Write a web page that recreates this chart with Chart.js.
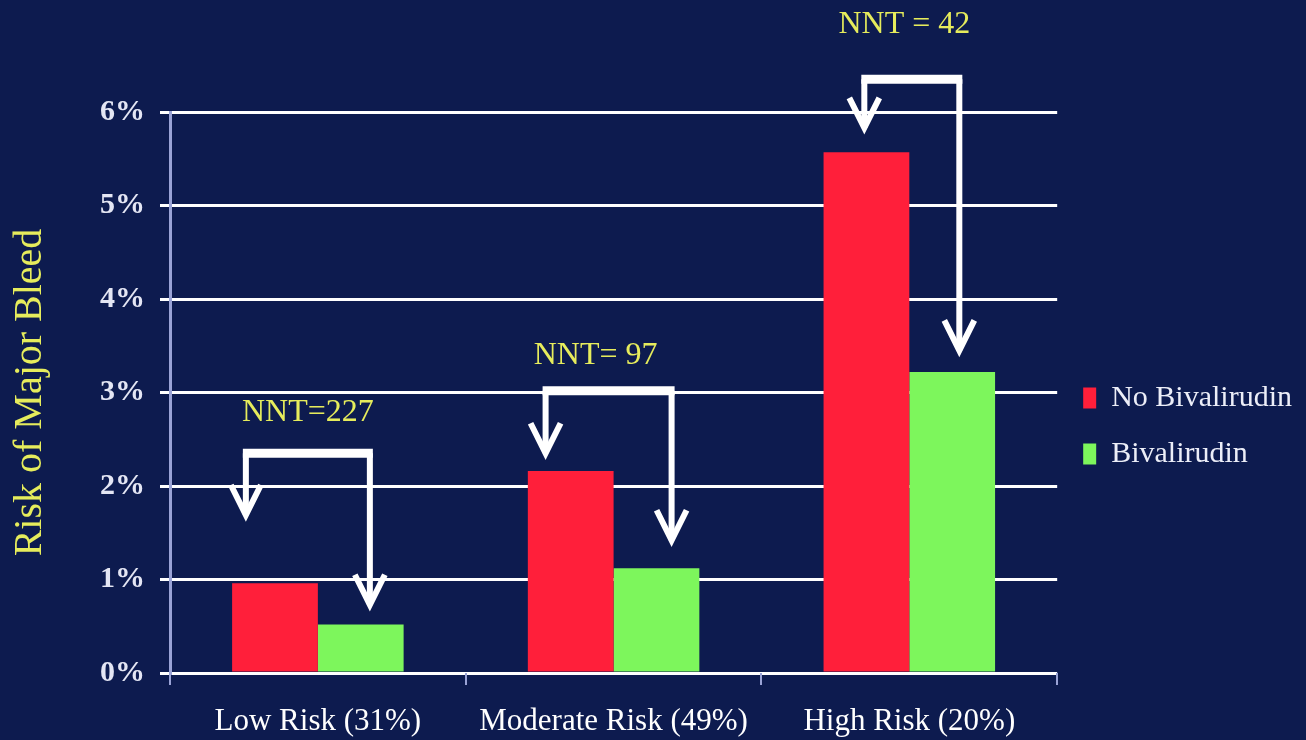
<!DOCTYPE html>
<html lang="en">
<head>
    <meta charset="UTF-8">
    <title>Risk of Major Bleed</title>
    <style>
        html, body { margin: 0; padding: 0; background: #0d1b4f; }
        canvas { display: block; }
    </style>
</head>
<body>
    <canvas id="bleedChart" width="1306" height="740"></canvas>

    <script src="https://cdn.jsdelivr.net/npm/chart.js"></script>
    <script>
        // datos
        const categories = ['Low Risk (31%)', 'Moderate Risk (49%)', 'High Risk (20%)'];
        const noBivalirudin = [0.96, 2.16, 5.57];
        const bivalirudin = [0.52, 1.12, 3.22];
        const yTicks = [0, 1, 2, 3, 4, 5, 6];
        const nntLabels = ['NNT=227', 'NNT= 97', 'NNT = 42'];
        // niveles (en %) de las flechas y etiquetas NNT
        const nntLevel = [2.78, 3.40, 6.93];
        const bracketLevel = [2.35, 3.02, 6.35];
        const leftTip = [1.69, 2.35, 5.83];
        const rightTip = [0.73, 1.42, 3.45];

        // desplazamientos horizontales (px) respecto al centro de cada categoria
        const arrowLayout = {
            left: [-72, -68, -45],
            right: [52, 58, 50],
            text: [-10, -18, -5]
        };

        const serif = '"Liberation Serif", "Times New Roman", serif';

        const nntArrows = {
            id: 'nntArrows',
            afterDatasetsDraw(chart) {
                const { ctx, scales: { x, y } } = chart;
                ctx.save();
                ctx.strokeStyle = '#ffffff';
                categories.forEach((c, i) => {
                    const xc = x.getPixelForValue(i);
                    const xl = xc + arrowLayout.left[i];
                    const xr = xc + arrowLayout.right[i];
                    const yb = y.getPixelForValue(bracketLevel[i]);
                    const yl = y.getPixelForValue(leftTip[i]);
                    const yr = y.getPixelForValue(rightTip[i]);

                    ctx.lineWidth = 9;
                    ctx.beginPath();
                    ctx.moveTo(xl - 3, yb);
                    ctx.lineTo(xr + 3, yb);
                    ctx.stroke();

                    ctx.lineWidth = 6;
                    ctx.beginPath();
                    ctx.moveTo(xl, yb);
                    ctx.lineTo(xl, yl);
                    ctx.moveTo(xr, yb);
                    ctx.lineTo(xr, yr);
                    ctx.stroke();

                    [[xl, yl], [xr, yr]].forEach(([ax, ay]) => {
                        ctx.beginPath();
                        ctx.moveTo(ax - 15, ay - 30);
                        ctx.lineTo(ax, ay);
                        ctx.lineTo(ax + 15, ay - 30);
                        ctx.stroke();
                    });

                    ctx.fillStyle = '#e6ec5c';
                    ctx.font = '32px ' + serif;
                    ctx.textAlign = 'center';
                    ctx.textBaseline = 'middle';
                    ctx.fillText(nntLabels[i], xc + arrowLayout.text[i], y.getPixelForValue(nntLevel[i]));
                });
                ctx.restore();
            }
        };

        new Chart(document.getElementById('bleedChart'), {
            type: 'bar',
            data: {
                labels: categories,
                datasets: [{
                    label: 'No Bivalirudin',
                    data: noBivalirudin,
                    backgroundColor: '#ff1f3a'
                }, {
                    label: 'Bivalirudin',
                    data: bivalirudin,
                    backgroundColor: '#7df65c'
                }]
            },
            options: {
                responsive: false,
                animation: false,
                categoryPercentage: 0.58,
                barPercentage: 1.0,
                layout: { padding: { top: 112, left: 0, right: 4, bottom: 0 } },
                plugins: {
                    tooltip: { enabled: false },
                    legend: {
                        position: 'right',
                        labels: {
                            boxWidth: 13,
                            boxHeight: 21,
                            padding: 26,
                            color: '#eceef8',
                            font: { family: serif, size: 30 }
                        }
                    }
                },
                scales: {
                    y: {
                        min: 0,
                        max: 6,
                        afterBuildTicks: (scale) => { scale.ticks = yTicks.map(v => ({ value: v })); },
                        afterFit: (scale) => { scale.width = 170; },
                        ticks: {
                            callback: v => v + '%',
                            color: '#e4e6f4',
                            padding: 15,
                            font: { family: serif, size: 30, weight: 'bold' }
                        },
                        grid: { color: '#ffffff', lineWidth: 3, tickLength: 10 },
                        border: { color: '#9aa3d6', width: 3 },
                        title: {
                            display: true,
                            text: 'Risk of Major Bleed',
                            color: '#e6ec5c',
                            padding: { top: 6, bottom: 0 },
                            font: { family: serif, size: 40 }
                        }
                    },
                    x: {
                        afterFit: (scale) => { scale.height = 67; },
                        ticks: {
                            color: '#ffffff',
                            padding: 18,
                            font: { family: serif, size: 31 }
                        },
                        grid: { drawOnChartArea: false, tickLength: 12, color: '#9aa3d6', lineWidth: 2 },
                        border: { display: false }
                    }
                }
            },
            plugins: [nntArrows]
        });
    </script>
</body>
</html>
